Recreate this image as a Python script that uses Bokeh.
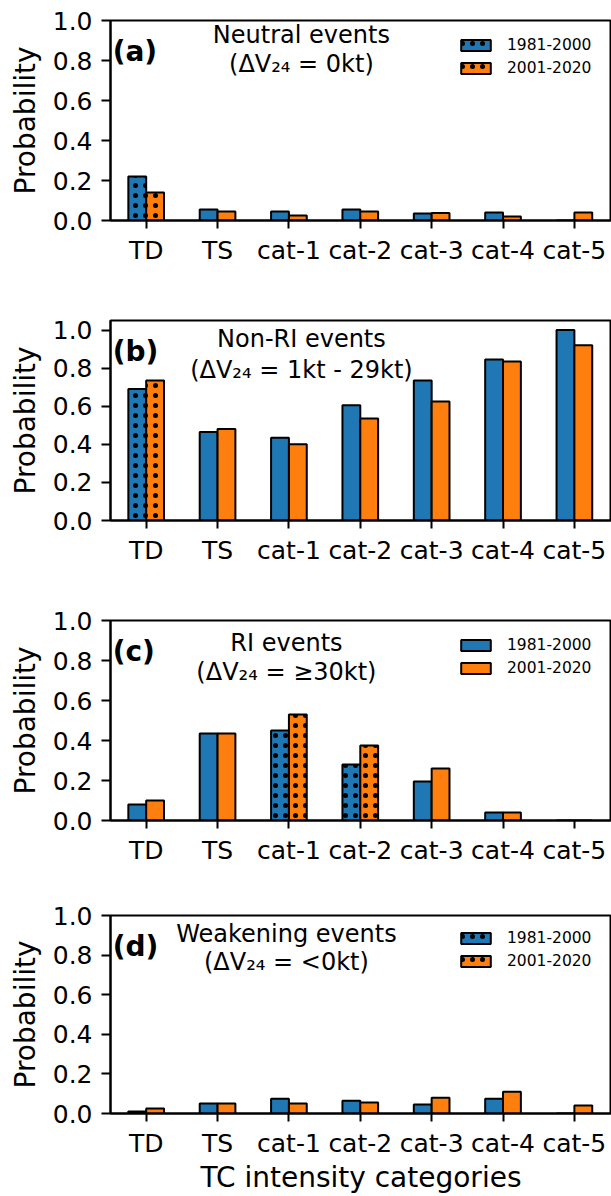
from bokeh.plotting import figure
from bokeh.layouts import column
from bokeh.models import (ColumnDataSource, Range1d, FixedTicker, PrintfTickFormatter,
                          Label, Legend, LegendItem)
from bokeh.core.properties import field
from bokeh.transform import dodge
from bokeh.embed import file_html
from bokeh.resources import INLINE

# ---- data -------------------------------------------------------------
categories = ["TD", "TS", "cat-1", "cat-2", "cat-3", "cat-4", "cat-5"]
periods = ["1981-2000", "2001-2020"]
y_ticks = [0.0, 0.2, 0.4, 0.6, 0.8, 1.0]

neutral_1981 = [0.22, 0.055, 0.045, 0.055, 0.035, 0.040, 0.0]
neutral_2001 = [0.14, 0.045, 0.025, 0.045, 0.037, 0.020, 0.040]
neutral_sig = [True, False, False, False, False, False, False]

nonri_1981 = [0.69, 0.465, 0.435, 0.605, 0.735, 0.845, 1.0]
nonri_2001 = [0.735, 0.48, 0.40, 0.535, 0.625, 0.835, 0.92]
nonri_sig = [True, False, False, False, False, False, False]

ri_1981 = [0.08, 0.435, 0.45, 0.28, 0.195, 0.04, 0.0]
ri_2001 = [0.10, 0.435, 0.53, 0.375, 0.26, 0.04, 0.0]
ri_sig = [False, False, True, True, False, False, False]

weak_1981 = [0.01, 0.05, 0.075, 0.065, 0.045, 0.075, 0.0]
weak_2001 = [0.025, 0.05, 0.05, 0.055, 0.08, 0.11, 0.04]
weak_sig = [True, False, False, False, False, False, False]

# ---- style ------------------------------------------------------------
FONT = "DejaVu Sans"
BLUE = "#1f77b4"
ORANGE = "#ff7f0e"
FRAME_H = 200
BAR_W = 0.25


def frac_to_y(frac, ymax):
    return frac * ymax


def build_panel(tag, title_lines, early, late, sig, ymax, title_x, title_px,
                show_legend, last, top_border, bottom_border):
    height = top_border + FRAME_H + bottom_border
    p = figure(width=611, height=height, output_backend="svg", toolbar_location=None,
               x_range=Range1d(-0.5, 6.52), y_range=Range1d(0, ymax),
               min_border_left=110, min_border_right=0,
               min_border_top=top_border, min_border_bottom=bottom_border)
    p.xgrid.visible = False
    p.ygrid.visible = False
    p.outline_line_color = "black"
    p.outline_line_width = 2
    p.outline_line_alpha = 1.0

    p.xaxis.ticker = FixedTicker(ticks=list(range(len(categories))))
    p.xaxis.major_label_overrides = {i: c for i, c in enumerate(categories)}
    p.yaxis.ticker = FixedTicker(ticks=y_ticks)
    p.yaxis.formatter = PrintfTickFormatter(format="%.1f")
    for ax in (p.xaxis, p.yaxis):
        ax.axis_line_width = 2
        ax.axis_line_color = "black"
        ax.major_tick_line_width = 2
        ax.major_tick_line_color = "black"
        ax.major_tick_in = 0
        ax.minor_tick_line_color = None
        ax.major_label_text_font = FONT
        ax.major_label_text_font_size = "25px"
        ax.major_label_text_color = "black"
        ax.axis_label_text_font = FONT
        ax.axis_label_text_font_size = "28px"
        ax.axis_label_text_font_style = "normal"
        ax.axis_label_text_color = "black"
    p.yaxis.major_tick_out = 9
    p.yaxis.major_label_standoff = 9
    p.xaxis.major_tick_out = 8
    p.xaxis.major_label_standoff = 7
    p.yaxis.axis_label = "Probability"
    p.yaxis.axis_label_standoff = 8
    if last:
        p.xaxis.axis_label = "TC intensity categories"
        p.xaxis.axis_label_standoff = 0

    src = ColumnDataSource(dict(
        x=list(range(len(categories))),
        early=early,
        late=late,
        hatch=["dot" if s else "blank" for s in sig],
    ))
    common = dict(width=BAR_W, source=src, line_color="black", line_width=2,
                  hatch_pattern=field("hatch"), hatch_color="black",
                  hatch_scale=10, hatch_weight=2.6)
    r1 = p.vbar(x=dodge("x", -BAR_W / 2), top="early", fill_color=BLUE, **common)
    r2 = p.vbar(x=dodge("x", BAR_W / 2), top="late", fill_color=ORANGE, **common)

    # panel tag and event description
    p.add_layout(Label(x=-0.47, y=frac_to_y(0.845, ymax), text=tag,
                       text_font=FONT, text_font_style="bold", text_font_size="28px",
                       text_align="left", text_baseline="middle", text_color="black"))
    for line, d in zip(title_lines, title_px):
        p.add_layout(Label(x=title_x, y=frac_to_y(1 - d / FRAME_H, ymax), text=line,
                           text_font=FONT, text_font_size="24px", text_align="center",
                           text_baseline="middle", text_color="black"))

    if show_legend:
        legend = Legend(items=[
            LegendItem(label=periods[0], renderers=[r1], index=0),
            LegendItem(label=periods[1], renderers=[r2], index=0),
        ], location=(347, 143), glyph_width=37, glyph_height=14, label_height=14,
            label_standoff=13, label_text_font=FONT, label_text_font_size="15.5px",
            label_text_color="black", spacing=5, padding=0, margin=0,
            border_line_color=None, background_fill_alpha=0)
        p.add_layout(legend)
    return p


pa = build_panel("(a)", ["Neutral events", "(ΔV₂₄ = 0kt)"], neutral_1981, neutral_2001,
                 neutral_sig, 1.0, 2.175, (14, 43), True, False, 20, 80)
pb = build_panel("(b)", ["Non-RI events", "(ΔV₂₄ = 1kt - 29kt)"], nonri_1981, nonri_2001,
                 nonri_sig, 1.05, 2.175, (18, 49), False, False, 20, 80)
pc = build_panel("(c)", ["RI events", "(ΔV₂₄ = ≥30kt)"], ri_1981, ri_2001,
                 ri_sig, 1.0, 1.965, (22, 51), True, False, 20, 80)
pd_ = build_panel("(d)", ["Weakening events", "(ΔV₂₄ = <0kt)"], weak_1981, weak_2001,
                  weak_sig, 1.0, 1.965, (19, 47), True, True, 15, 81)

layout = column(pa, pb, pc, pd_, spacing=0)
open("out.html", "w").write(file_html(layout, INLINE))
